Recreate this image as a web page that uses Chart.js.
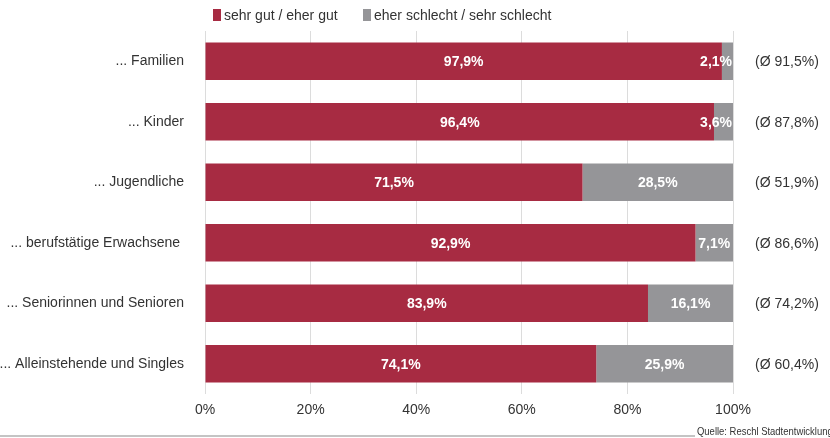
<!DOCTYPE html>
<html>
<head>
<meta charset="utf-8">
<script src="https://cdn.jsdelivr.net/npm/chart.js@4"></script>
<style>
  html, body { margin: 0; padding: 0; background: #fff; }
  #wrap { position: relative; width: 830px; height: 438px; overflow: hidden; }
  #quelle {
    position: absolute; left: 0; top: 426px; width: 830px; height: 12px;
  }
  #quelle .line { position: absolute; left: 0; top: 9px; width: 695px; height: 2px; background: #c4c4c4; }
  #quelle .txt {
    position: absolute; left: 697px; top: -1px; white-space: nowrap;
    font: 11px "Liberation Sans Narrow", "Liberation Sans", Arial, sans-serif; color: #333;
    transform: scaleX(0.86); transform-origin: left top;
  }
</style>
</head>
<body>
<div id="wrap">
  <canvas id="chart" width="830" height="438"></canvas>
  <div id="quelle"><div class="line"></div><div class="txt">Quelle: Reschl Stadtentwicklung</div></div>
</div>
<script>
const categories = ['... Familien', '... Kinder', '... Jugendliche', '... berufstätige Erwachsene ', '... Seniorinnen und Senioren', '... Alleinstehende und Singles'];
const gutValues = [97.9, 96.4, 71.5, 92.9, 83.9, 74.1];
const schlechtValues = [2.1, 3.6, 28.5, 7.1, 16.1, 25.9];
const avgValues = [91.5, 87.8, 51.9, 86.6, 74.2, 60.4];
const seriesNames = ['sehr gut / eher gut', 'eher schlecht / sehr schlecht'];
const xTicks = [0, 20, 40, 60, 80, 100];

const FONT = '"Liberation Sans", Arial, Helvetica, sans-serif';
const RED = '#a72b42';
const GREY = '#959598';

function fmt(v) {
    return v.toFixed(1).replace('.', ',') + '%';
}

// Werte in den Balken
const barLabels = {
    id: 'barLabels',
    afterDatasetsDraw(chart) {
        const ctx = chart.ctx;
        ctx.save();
        ctx.font = 'bold 14px ' + FONT;
        ctx.fillStyle = '#fff';
        ctx.textAlign = 'center';
        ctx.textBaseline = 'middle';
        chart.data.datasets.forEach((ds, di) => {
            chart.getDatasetMeta(di).data.forEach((bar, i) => {
                const left = Math.min(bar.x, bar.base);
                const right = Math.max(bar.x, bar.base);
                const txt = fmt(ds.data[i]);
                const w = ctx.measureText(txt).width;
                let cx = (left + right) / 2;
                cx = Math.min(cx, chart.chartArea.right - w / 2 - 1);
                ctx.fillText(txt, cx, bar.y + 1);
            });
        });
        ctx.restore();
    }
};

// Durchschnitt rechts + Legende oben
const extras = {
    id: 'extras',
    afterDraw(chart) {
        const ctx = chart.ctx;
        ctx.save();
        ctx.font = '14px ' + FONT;
        ctx.fillStyle = '#333';
        ctx.textAlign = 'center';
        ctx.textBaseline = 'middle';
        const meta = chart.getDatasetMeta(0);
        avgValues.forEach((v, i) => {
            ctx.fillText('(Ø ' + fmt(v) + ')', 787, meta.data[i].y + 1);
        });

        ctx.textAlign = 'left';
        const boxX = [213, 363];
        const colors = [RED, GREY];
        seriesNames.forEach((name, i) => {
            ctx.fillStyle = colors[i];
            ctx.fillRect(boxX[i], 9, 8, 12);
            ctx.fillStyle = '#333';
            ctx.fillText(name, boxX[i] + 11, 16);
        });
        ctx.restore();
    }
};

new Chart(document.getElementById('chart'), {
    type: 'bar',
    data: {
        labels: categories,
        datasets: [
            { label: seriesNames[0], data: gutValues, backgroundColor: RED },
            { label: seriesNames[1], data: schlechtValues, backgroundColor: GREY }
        ]
    },
    options: {
        indexAxis: 'y',
        responsive: false,
        animation: false,
        devicePixelRatio: 1,
        categoryPercentage: 1,
        barPercentage: 0.62,
        layout: { padding: { top: 31, right: 97, left: 0, bottom: 0 } },
        plugins: {
            legend: { display: false },
            tooltip: { enabled: false }
        },
        scales: {
            x: {
                stacked: true,
                min: 0,
                max: 100,
                afterBuildTicks: (scale) => { scale.ticks = xTicks.map(v => ({ value: v })); },
                afterFit: (scale) => { scale.height = 44; },
                grid: { color: '#dcdcdc', drawTicks: false },
                border: { display: false },
                ticks: {
                    padding: 8,
                    color: '#333',
                    font: { family: FONT, size: 14 },
                    callback: (v) => v + '%'
                }
            },
            y: {
                stacked: true,
                afterFit: (scale) => { scale.width = 205; },
                grid: { display: false, drawTicks: false },
                border: { display: false },
                ticks: {
                    padding: 21,
                    color: '#333',
                    font: { family: FONT, size: 14 }
                }
            }
        }
    },
    plugins: [barLabels, extras]
});
</script>
</body>
</html>
